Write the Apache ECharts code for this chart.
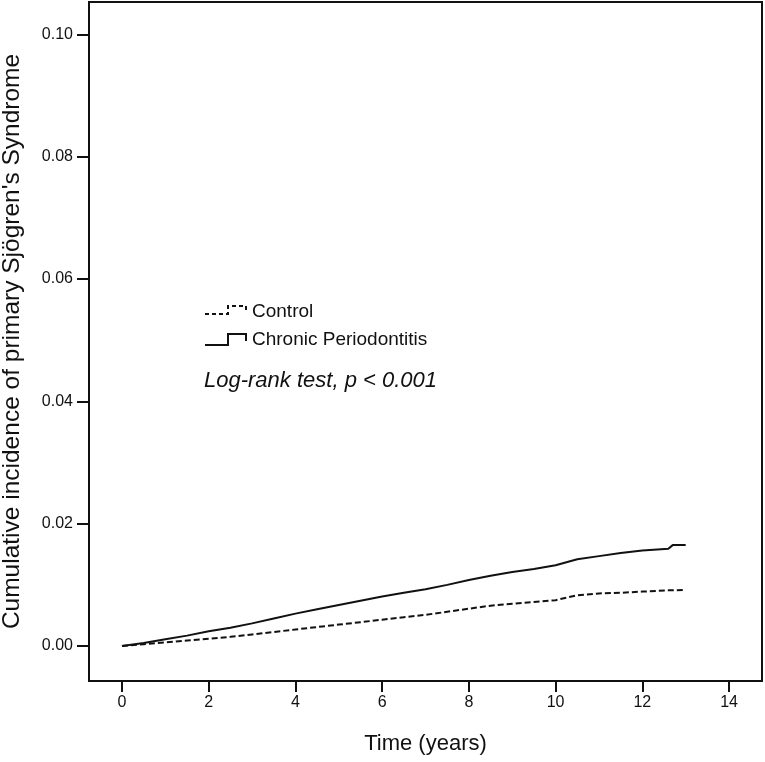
<!DOCTYPE html>
<html>
<head>
<meta charset="utf-8">
<script src="https://cdn.jsdelivr.net/npm/echarts@6/dist/echarts.min.js"></script>
<style>
html,body{margin:0;padding:0;background:#fff;}
#chart{width:765px;height:762px;}
</style>
</head>
<body>
<div id="chart"></div>
<script>
// ---- data ----
var times = [0, 0.5, 1, 1.5, 2, 2.5, 3, 3.5, 4, 4.5, 5, 5.5, 6, 6.5, 7, 7.5, 8, 8.5, 9, 9.5, 10, 10.5, 11, 11.5, 12, 12.6, 12.7, 13];
var periodontitis = [0, 0.0005, 0.0011, 0.0017, 0.0024, 0.0030, 0.0037, 0.0045, 0.0053, 0.0060, 0.0067, 0.0074, 0.0081, 0.0087, 0.0093, 0.0100, 0.0108, 0.0115, 0.0121, 0.0126, 0.0132, 0.0142, 0.0147, 0.0152, 0.0156, 0.0159, 0.0165, 0.0165];
var control = [0, 0.0003, 0.0006, 0.0009, 0.0012, 0.0015, 0.0019, 0.0023, 0.0027, 0.0031, 0.0035, 0.0039, 0.0043, 0.0047, 0.0051, 0.0056, 0.0061, 0.0066, 0.0069, 0.0072, 0.0075, 0.0083, 0.0086, 0.0087, 0.0089, 0.0091, 0.0091, 0.0092];
var xTicks = [0, 2, 4, 6, 8, 10, 12, 14];
var yTicks = [0, 0.02, 0.04, 0.06, 0.08, 0.10];
var seriesNames = ['Control', 'Chronic Periodontitis'];
var xTitle = 'Time (years)';
var yTitle = "Cumulative incidence of primary Sjögren's Syndrome";
var annotation = 'Log-rank test, p < 0.001';

function pairs(xs, ys) { return xs.map(function (x, i) { return [x, ys[i]]; }); }

var FONT = "'Liberation Sans', Arial, sans-serif";
var INK = '#111';

var chart = echarts.init(document.getElementById('chart'), null, {renderer: 'canvas'});
chart.setOption({
  backgroundColor: '#fff',
  animation: false,
  grid: {left: 89, right: 3, top: 2, bottom: 81, containLabel: false, outerBoundsMode: 'none',
    show: true, borderColor: INK, borderWidth: 2, backgroundColor: 'transparent'},
  xAxis: {
    type: 'value', min: -0.761, max: 14.76,
    name: xTitle, nameLocation: 'middle', nameGap: 52,
    nameTextStyle: {fontFamily: FONT, fontSize: 22, color: INK},
    axisLine: {show: true, onZero: false, lineStyle: {color: INK, width: 2}},
    axisTick: {show: true, inside: false, length: 11, lineStyle: {color: INK, width: 2}, customValues: xTicks},
    axisLabel: {show: true, margin: 14, fontFamily: FONT, fontSize: 16, color: INK, customValues: xTicks,
      formatter: function (v) { return String(v); }},
    splitLine: {show: false}
  },
  yAxis: {
    type: 'value', min: -0.00572, max: 0.10531,
    name: yTitle, nameLocation: 'middle', nameGap: 64, nameRotate: 90,
    nameTextStyle: {fontFamily: FONT, fontSize: 24.5, color: INK},
    axisLine: {show: true, onZero: false, lineStyle: {color: INK, width: 2}},
    axisTick: {show: true, inside: false, length: 12, lineStyle: {color: INK, width: 2}, customValues: yTicks},
    axisLabel: {show: true, margin: 16, fontFamily: FONT, fontSize: 16, color: INK, customValues: yTicks,
      formatter: function (v) { return v.toFixed(2); }},
    splitLine: {show: false}
  },
  series: [
    {
      name: seriesNames[0], type: 'line', data: pairs(times, control),
      showSymbol: false, symbol: 'none',
      lineStyle: {color: INK, width: 2, type: [6, 3]}
    },
    {
      name: seriesNames[1], type: 'line', data: pairs(times, periodontitis),
      showSymbol: false, symbol: 'none',
      lineStyle: {color: INK, width: 2}
    }
  ],
  graphic: [
    {type: 'polyline', shape: {points: [[205, 314], [228, 314], [228, 306], [246, 306], [246, 312]]},
      style: {stroke: INK, lineWidth: 2, lineDash: [4, 3], fill: null}},
    {type: 'text', left: 252, top: 302, style: {text: seriesNames[0], font: '19px ' + FONT, fill: INK}},
    {type: 'polyline', shape: {points: [[205, 345], [228, 345], [228, 334], [246, 334], [246, 341]]},
      style: {stroke: INK, lineWidth: 2, fill: null}},
    {type: 'text', left: 252, top: 330, style: {text: seriesNames[1], font: '19px ' + FONT, fill: INK}},
    {type: 'text', left: 204, top: 370, style: {text: annotation, font: 'italic 22px ' + FONT, fill: INK}}
  ]
});
</script>
</body>
</html>
